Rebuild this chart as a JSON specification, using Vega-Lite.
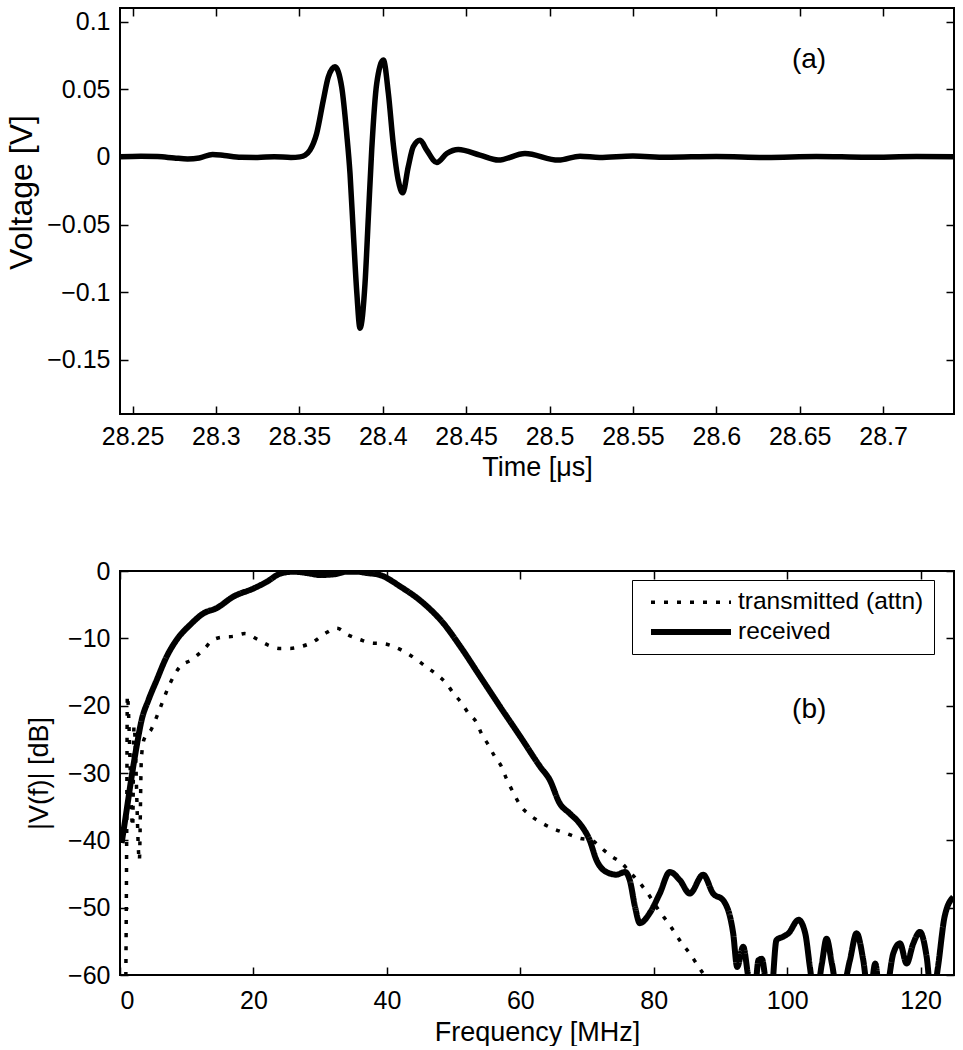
{
  "$schema": "https://vega.github.io/schema/vega-lite/v6.json",
  "padding": {"left": 4, "top": 6, "right": 0, "bottom": 0},
  "background": "white",
  "spacing": 157,
  "bounds": "flush",
  "vconcat": [
    {
      "width": 834,
      "height": 406,
      "data": {"values": [
        {"t": 28.2425, "v": 0}, {"t": 28.255, "v": 0.0004}, {"t": 28.265, "v": 0.0002}, {"t": 28.275, "v": -0.0008},
        {"t": 28.283, "v": -0.0015}, {"t": 28.29, "v": -0.0008}, {"t": 28.298, "v": 0.0018}, {"t": 28.305, "v": 0.001},
        {"t": 28.315, "v": -0.0003}, {"t": 28.325, "v": -0.0004}, {"t": 28.335, "v": 0.0001}, {"t": 28.345, "v": -0.0004},
        {"t": 28.3504, "v": 0}, {"t": 28.3534, "v": 0.0012}, {"t": 28.3564, "v": 0.005}, {"t": 28.3604, "v": 0.0173},
        {"t": 28.3644, "v": 0.0419}, {"t": 28.3674, "v": 0.0591}, {"t": 28.3714, "v": 0.0665}, {"t": 28.3754, "v": 0.0517},
        {"t": 28.3784, "v": 0.0173}, {"t": 28.3804, "v": -0.0123}, {"t": 28.3824, "v": -0.0566}, {"t": 28.3845, "v": -0.1009},
        {"t": 28.3864, "v": -0.1266}, {"t": 28.3894, "v": -0.0935}, {"t": 28.3914, "v": -0.0443}, {"t": 28.3934, "v": 0.005},
        {"t": 28.3964, "v": 0.0542}, {"t": 28.4004, "v": 0.0715}, {"t": 28.4034, "v": 0.0468}, {"t": 28.4063, "v": 0.0099},
        {"t": 28.4093, "v": -0.0172}, {"t": 28.412, "v": -0.0266}, {"t": 28.4153, "v": -0.0074}, {"t": 28.4183, "v": 0.0074},
        {"t": 28.4224, "v": 0.0123}, {"t": 28.4264, "v": 0.005}, {"t": 28.4324, "v": -0.0041}, {"t": 28.4384, "v": 0.0025},
        {"t": 28.4453, "v": 0.0055}, {"t": 28.4583, "v": 0.0013}, {"t": 28.4693, "v": -0.0024}, {"t": 28.4853, "v": 0.0025},
        {"t": 28.5053, "v": -0.0024}, {"t": 28.5183, "v": 0.0005}, {"t": 28.53, "v": -0.0004}, {"t": 28.55, "v": 0.0006},
        {"t": 28.57, "v": -0.0003}, {"t": 28.6, "v": 0.0003}, {"t": 28.63, "v": -0.0004}, {"t": 28.66, "v": 0.0003},
        {"t": 28.69, "v": -0.0003}, {"t": 28.72, "v": 0.0002}, {"t": 28.7425, "v": 0}
      ]},
      "layer": [
        {
          "mark": {"type": "line", "color": "black", "strokeWidth": 5.5, "interpolate": "monotone", "clip": true, "strokeJoin": "round"},
          "encoding": {
            "x": {"field": "t", "type": "quantitative",
                  "scale": {"domain": [28.2425, 28.7425], "nice": false, "zero": false},
                  "axis": {"orient": "bottom", "title": "Time [μs]", "values": [28.25, 28.3, 28.35, 28.4, 28.45, 28.5, 28.55, 28.6, 28.65, 28.7],
                           "format": "~g", "titleY": 61, "titleBaseline": "alphabetic"}},
            "y": {"field": "v", "type": "quantitative",
                  "scale": {"domain": [-0.19, 0.11], "nice": false, "zero": false},
                  "axis": {"orient": "left", "title": "Voltage [V]", "values": [-0.15, -0.1, -0.05, 0, 0.05, 0.1],
                           "format": "~g", "titleFontSize": 32, "titleX": -89, "titleY": 184, "titleBaseline": "alphabetic"}}
          }
        },
        {
          "data": {"values": [{"tx": 28.6556, "ty": 0.0716, "label": "(a)"}]},
          "mark": {"type": "text", "fontSize": 28, "font": "Liberation Sans", "color": "black", "align": "center", "baseline": "middle"},
          "encoding": {
            "x": {"field": "tx", "type": "quantitative",
                  "scale": {"domain": [28.2425, 28.7425], "nice": false, "zero": false},
                  "axis": {"orient": "top", "labels": false, "title": null, "values": [28.25, 28.3, 28.35, 28.4, 28.45, 28.5, 28.55, 28.6, 28.65, 28.7]}},
            "y": {"field": "ty", "type": "quantitative",
                  "scale": {"domain": [-0.19, 0.11], "nice": false, "zero": false},
                  "axis": {"orient": "right", "labels": false, "title": null, "values": [-0.15, -0.1, -0.05, 0, 0.05, 0.1]}},
            "text": {"field": "label"}
          }
        }
      ],
      "resolve": {"axis": {"x": "independent", "y": "independent"}}
    },
    {
      "width": 834,
      "height": 404,
      "data": {"values": [
        {"f": 0.25, "db": -40.4, "series": "received"}, {"f": 1.0, "db": -35.5, "series": "received"}, {"f": 1.75, "db": -30.5, "series": "received"},
        {"f": 2.5, "db": -26.0, "series": "received"}, {"f": 3.25, "db": -22.1, "series": "received"}, {"f": 4.25, "db": -19.2, "series": "received"},
        {"f": 5.5, "db": -16.2, "series": "received"}, {"f": 7.0, "db": -12.7, "series": "received"}, {"f": 8.5, "db": -10.2, "series": "received"},
        {"f": 10.5, "db": -8.0, "series": "received"}, {"f": 12.5, "db": -6.3, "series": "received"}, {"f": 14.5, "db": -5.5, "series": "received"},
        {"f": 17.0, "db": -3.8, "series": "received"}, {"f": 20.0, "db": -2.6, "series": "received"}, {"f": 22.0, "db": -1.6, "series": "received"},
        {"f": 24.0, "db": -0.4, "series": "received"}, {"f": 26.0, "db": -0.1, "series": "received"}, {"f": 28.0, "db": -0.3, "series": "received"},
        {"f": 30.0, "db": -0.6, "series": "received"}, {"f": 32.0, "db": -0.5, "series": "received"}, {"f": 34.0, "db": -0.1, "series": "received"},
        {"f": 35.5, "db": -0.1, "series": "received"}, {"f": 37.0, "db": -0.3, "series": "received"}, {"f": 39.0, "db": -0.6, "series": "received"},
        {"f": 42.0, "db": -2.3, "series": "received"}, {"f": 45.5, "db": -4.8, "series": "received"}, {"f": 48.5, "db": -7.8, "series": "received"},
        {"f": 51.0, "db": -11.2, "series": "received"}, {"f": 54.0, "db": -15.7, "series": "received"}, {"f": 57.0, "db": -20.2, "series": "received"},
        {"f": 60.0, "db": -24.6, "series": "received"}, {"f": 63.0, "db": -29.1, "series": "received"}, {"f": 64.4, "db": -31.0, "series": "received"},
        {"f": 65.9, "db": -34.5, "series": "received"}, {"f": 67.4, "db": -36.0, "series": "received"}, {"f": 68.9, "db": -37.5, "series": "received"},
        {"f": 70.4, "db": -40.0, "series": "received"}, {"f": 71.4, "db": -42.9, "series": "received"}, {"f": 72.9, "db": -44.7, "series": "received"},
        {"f": 74.4, "db": -45.1, "series": "received"}, {"f": 75.7, "db": -44.7, "series": "received"}, {"f": 76.4, "db": -45.9, "series": "received"},
        {"f": 77.2, "db": -49.9, "series": "received"}, {"f": 77.9, "db": -52.3, "series": "received"}, {"f": 79.4, "db": -50.8, "series": "received"},
        {"f": 80.9, "db": -47.9, "series": "received"}, {"f": 82.4, "db": -44.7, "series": "received"}, {"f": 83.9, "db": -45.9, "series": "received"},
        {"f": 85.4, "db": -47.9, "series": "received"}, {"f": 87.4, "db": -45.1, "series": "received"}, {"f": 88.9, "db": -47.9, "series": "received"},
        {"f": 90.4, "db": -48.9, "series": "received"}, {"f": 91.9, "db": -53.8, "series": "received"}, {"f": 92.5, "db": -58.8, "series": "received"},
        {"f": 93.4, "db": -55.8, "series": "received"}, {"f": 94.2, "db": -60.5, "series": "received"}, {"f": 95.0, "db": -64, "series": "received"},
        {"f": 95.7, "db": -57.8, "series": "received"}, {"f": 96.2, "db": -57.6, "series": "received"}, {"f": 96.8, "db": -61, "series": "received"},
        {"f": 97.5, "db": -64, "series": "received"}, {"f": 98.4, "db": -54.8, "series": "received"}, {"f": 99.4, "db": -54.3, "series": "received"},
        {"f": 100.2, "db": -53.8, "series": "received"}, {"f": 101.7, "db": -51.8, "series": "received"}, {"f": 102.7, "db": -53.8, "series": "received"},
        {"f": 103.4, "db": -58.8, "series": "received"}, {"f": 104.2, "db": -64, "series": "received"}, {"f": 105.2, "db": -58.3, "series": "received"},
        {"f": 105.9, "db": -54.6, "series": "received"}, {"f": 106.7, "db": -58.3, "series": "received"}, {"f": 107.8, "db": -64, "series": "received"},
        {"f": 109.4, "db": -57.8, "series": "received"}, {"f": 110.4, "db": -53.8, "series": "received"}, {"f": 111.4, "db": -57.8, "series": "received"},
        {"f": 112.3, "db": -64, "series": "received"}, {"f": 113.2, "db": -58.3, "series": "received"}, {"f": 114.0, "db": -64, "series": "received"},
        {"f": 115.0, "db": -62, "series": "received"}, {"f": 115.9, "db": -56.8, "series": "received"}, {"f": 116.9, "db": -55.3, "series": "received"},
        {"f": 117.9, "db": -58.3, "series": "received"}, {"f": 118.9, "db": -55.3, "series": "received"}, {"f": 119.9, "db": -53.6, "series": "received"},
        {"f": 120.9, "db": -57.3, "series": "received"}, {"f": 121.7, "db": -64, "series": "received"}, {"f": 122.6, "db": -58.8, "series": "received"},
        {"f": 123.6, "db": -51.3, "series": "received"}, {"f": 124.9, "db": -48.4, "series": "received"},

        {"f": 0.85, "db": -64, "series": "transmitted (attn)"}, {"f": 1.0, "db": -40, "series": "transmitted (attn)"},
        {"f": 1.1, "db": -18.5, "series": "transmitted (attn)"}, {"f": 1.9, "db": -38, "series": "transmitted (attn)"},
        {"f": 2.1, "db": -23, "series": "transmitted (attn)"}, {"f": 2.9, "db": -43, "series": "transmitted (attn)"},
        {"f": 3.2, "db": -28, "series": "transmitted (attn)"}, {"f": 3.6, "db": -25, "series": "transmitted (attn)"},
        {"f": 4.7, "db": -23.5, "series": "transmitted (attn)"}, {"f": 6.0, "db": -20.4, "series": "transmitted (attn)"},
        {"f": 7.5, "db": -16.7, "series": "transmitted (attn)"}, {"f": 9.0, "db": -14.2, "series": "transmitted (attn)"},
        {"f": 10.7, "db": -13.2, "series": "transmitted (attn)"}, {"f": 12.5, "db": -11.7, "series": "transmitted (attn)"},
        {"f": 14.0, "db": -10.2, "series": "transmitted (attn)"}, {"f": 15.5, "db": -9.8, "series": "transmitted (attn)"},
        {"f": 17.0, "db": -9.7, "series": "transmitted (attn)"}, {"f": 18.7, "db": -9.3, "series": "transmitted (attn)"},
        {"f": 20.5, "db": -10.1, "series": "transmitted (attn)"}, {"f": 22.2, "db": -11.0, "series": "transmitted (attn)"},
        {"f": 24.0, "db": -11.5, "series": "transmitted (attn)"}, {"f": 25.5, "db": -11.5, "series": "transmitted (attn)"},
        {"f": 27.2, "db": -11.2, "series": "transmitted (attn)"}, {"f": 29.0, "db": -10.5, "series": "transmitted (attn)"},
        {"f": 30.7, "db": -9.3, "series": "transmitted (attn)"}, {"f": 32.5, "db": -8.5, "series": "transmitted (attn)"},
        {"f": 34.2, "db": -9.5, "series": "transmitted (attn)"}, {"f": 36.0, "db": -10.2, "series": "transmitted (attn)"},
        {"f": 37.7, "db": -10.7, "series": "transmitted (attn)"}, {"f": 39.5, "db": -10.8, "series": "transmitted (attn)"},
        {"f": 41.2, "db": -11.3, "series": "transmitted (attn)"}, {"f": 43.0, "db": -12.2, "series": "transmitted (attn)"},
        {"f": 44.5, "db": -13.2, "series": "transmitted (attn)"}, {"f": 46.0, "db": -14.3, "series": "transmitted (attn)"},
        {"f": 47.5, "db": -15.4, "series": "transmitted (attn)"}, {"f": 49.0, "db": -16.8, "series": "transmitted (attn)"},
        {"f": 50.0, "db": -18.2, "series": "transmitted (attn)"}, {"f": 51.2, "db": -19.6, "series": "transmitted (attn)"},
        {"f": 52.2, "db": -21.1, "series": "transmitted (attn)"}, {"f": 53.5, "db": -22.6, "series": "transmitted (attn)"},
        {"f": 54.2, "db": -24.2, "series": "transmitted (attn)"}, {"f": 55.2, "db": -25.8, "series": "transmitted (attn)"},
        {"f": 56.2, "db": -27.6, "series": "transmitted (attn)"}, {"f": 57.2, "db": -29.1, "series": "transmitted (attn)"},
        {"f": 57.9, "db": -30.8, "series": "transmitted (attn)"}, {"f": 59.0, "db": -33.0, "series": "transmitted (attn)"},
        {"f": 60.0, "db": -34.8, "series": "transmitted (attn)"}, {"f": 61.5, "db": -36.3, "series": "transmitted (attn)"},
        {"f": 63.0, "db": -37.3, "series": "transmitted (attn)"}, {"f": 65.0, "db": -38.3, "series": "transmitted (attn)"},
        {"f": 67.0, "db": -39.0, "series": "transmitted (attn)"}, {"f": 68.9, "db": -39.7, "series": "transmitted (attn)"},
        {"f": 70.7, "db": -40.0, "series": "transmitted (attn)"}, {"f": 72.2, "db": -41.2, "series": "transmitted (attn)"},
        {"f": 73.7, "db": -42.4, "series": "transmitted (attn)"}, {"f": 75.2, "db": -43.4, "series": "transmitted (attn)"},
        {"f": 76.4, "db": -44.7, "series": "transmitted (attn)"}, {"f": 77.7, "db": -46.1, "series": "transmitted (attn)"},
        {"f": 78.9, "db": -47.6, "series": "transmitted (attn)"}, {"f": 80.9, "db": -50.6, "series": "transmitted (attn)"},
        {"f": 82.2, "db": -52.3, "series": "transmitted (attn)"}, {"f": 83.2, "db": -53.8, "series": "transmitted (attn)"},
        {"f": 84.2, "db": -55.3, "series": "transmitted (attn)"}, {"f": 85.4, "db": -56.8, "series": "transmitted (attn)"},
        {"f": 86.4, "db": -58.3, "series": "transmitted (attn)"}, {"f": 87.4, "db": -59.8, "series": "transmitted (attn)"},
        {"f": 88.5, "db": -61.5, "series": "transmitted (attn)"}, {"f": 90.0, "db": -64, "series": "transmitted (attn)"}
      ]},
      "layer": [
        {
          "mark": {"type": "line", "color": "black", "interpolate": "monotone", "clip": true, "strokeJoin": "round"},
          "encoding": {
            "x": {"field": "f", "type": "quantitative",
                  "scale": {"domain": [0, 125], "nice": false, "zero": false},
                  "axis": {"orient": "bottom", "title": "Frequency [MHz]", "values": [0, 20, 40, 60, 80, 100, 120],
                           "format": "d", "labelPadding": 21, "titleY": 65, "titleBaseline": "alphabetic"}},
            "y": {"field": "db", "type": "quantitative",
                  "scale": {"domain": [-60, 0], "nice": false, "zero": false},
                  "axis": {"orient": "left", "title": "|V(f)| [dB]", "values": [-60, -50, -40, -30, -20, -10, 0],
                           "format": "d", "titleX": -73, "titleBaseline": "alphabetic"}},
            "strokeDash": {"field": "series", "type": "nominal",
                           "scale": {"domain": ["transmitted (attn)", "received"], "range": [[4, 9], [1, 0]]},
                           "legend": {"title": null}},
            "strokeWidth": {"field": "series", "type": "nominal",
                            "scale": {"domain": ["transmitted (attn)", "received"], "range": [3.5, 6]},
                            "legend": {"title": null}}
          }
        },
        {
          "data": {"values": [{"fx": 103.3, "fy": -20.6, "label": "(b)"}]},
          "mark": {"type": "text", "fontSize": 28, "font": "Liberation Sans", "color": "black", "align": "center", "baseline": "middle"},
          "encoding": {
            "x": {"field": "fx", "type": "quantitative",
                  "scale": {"domain": [0, 125], "nice": false, "zero": false},
                  "axis": {"orient": "top", "labels": false, "title": null, "values": [0, 20, 40, 60, 80, 100, 120]}},
            "y": {"field": "fy", "type": "quantitative",
                  "scale": {"domain": [-60, 0], "nice": false, "zero": false},
                  "axis": {"orient": "right", "labels": false, "title": null, "values": [-60, -50, -40, -30, -20, -10, 0]}},
            "text": {"field": "label"}
          }
        }
      ],
      "resolve": {"axis": {"x": "independent", "y": "independent"}}
    }
  ],
  "config": {
    "font": "Liberation Sans",
    "view": {"stroke": "black", "strokeWidth": 2},
    "axis": {"domain": false, "grid": false, "tickColor": "black", "tickSize": -8, "tickWidth": 1.5,
             "labelFont": "Liberation Sans", "labelFontSize": 25, "labelColor": "black", "labelPadding": 18,
             "titleFont": "Liberation Sans", "titleFontSize": 27, "titleFontWeight": "normal", "titleColor": "black"},
    "legend": {"orient": "none", "legendX": 512, "legendY": 572, "strokeColor": "black", "fillColor": "white",
               "padding": 10, "labelFont": "Liberation Sans", "labelFontSize": 24.5, "labelColor": "black", "labelLimit": 400,
               "symbolType": "M-4,0H4", "symbolSize": 400, "symbolOffset": 36, "symbolStrokeColor": "black",
               "labelOffset": 34, "rowPadding": 5}
  }
}
